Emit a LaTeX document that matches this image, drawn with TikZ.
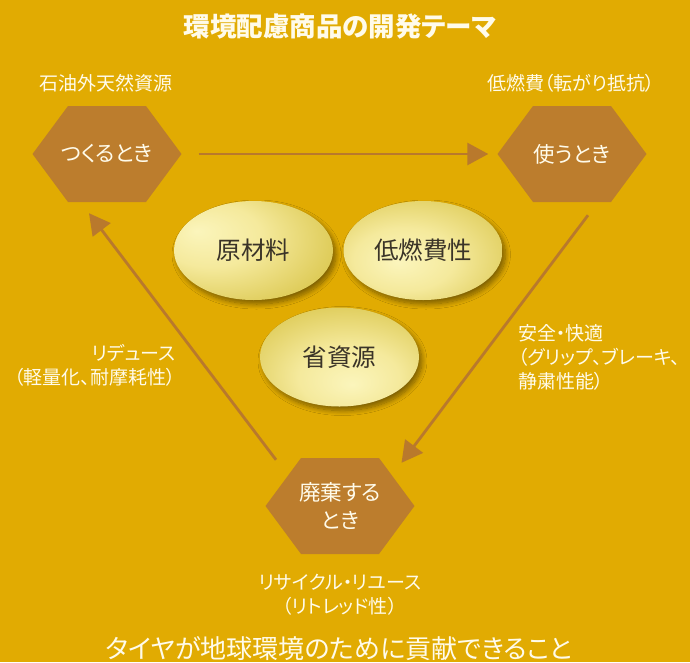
\documentclass[tikz,border=0pt]{standalone}
\usepackage{fontspec}
\setmainfont[RawFeature=+palt]{Noto Sans CJK JP}
\usetikzlibrary{arrows.meta,shapes.geometric,shadows.blur}
\definecolor{bg}{HTML}{E1AB02}
\definecolor{hexc}{HTML}{BC7D2D}
\definecolor{arrc}{HTML}{B9792C}
\definecolor{eLight}{HTML}{FBF5BC}
\definecolor{eMid}{HTML}{EBD86C}
\definecolor{eDark}{HTML}{C3AC1A}
\definecolor{txtw}{HTML}{FFFBEA}
\definecolor{txtd}{HTML}{3B3428}
\pgfdeclareradialshading{glowA}{\pgfpoint{-18bp}{10bp}}{color(0bp)=(eLight); color(16bp)=(eLight!60!eMid); color(40bp)=(eMid!50!eDark); color(64bp)=(eDark)}
\pgfdeclareradialshading{glowB}{\pgfpoint{-8bp}{-6bp}}{color(0bp)=(eLight); color(16bp)=(eLight!60!eMid); color(40bp)=(eMid!50!eDark); color(62bp)=(eDark)}
\pgfdeclareradialshading{glowC}{\pgfpoint{4bp}{-14bp}}{color(0bp)=(eLight); color(16bp)=(eLight!60!eMid); color(40bp)=(eMid!50!eDark); color(64bp)=(eDark)}
\begin{document}
\begin{tikzpicture}[x=1pt,y=-1pt,
  hexnode/.style={minimum width=149pt,minimum height=96pt,inner sep=0pt,text=txtw,
    font=\fontsize{21.5pt}{28pt}\selectfont,align=center,
    path picture={\fill[hexc] (path picture bounding box.west)
      -- ([xshift=-39pt]path picture bounding box.north)
      -- ([xshift=39pt]path picture bounding box.north)
      -- (path picture bounding box.east)
      -- ([xshift=39pt]path picture bounding box.south)
      -- ([xshift=-39pt]path picture bounding box.south) -- cycle;}},
  ellnode/.style={ellipse,minimum width=159pt,minimum height=99pt,inner sep=0pt,text=txtd,
    font=\fontsize{24.5pt}{28pt}\selectfont,
    blur shadow={shadow xshift=3pt,shadow yshift=-4pt,shadow blur radius=5pt,shadow opacity=45,shadow blur steps=10}},
  lbl/.style={text=txtw,font=\fontsize{19pt}{24pt}\selectfont,inner sep=0pt},
  conn/.style={draw=arrc,line width=2.8pt,-{Triangle[length=21pt,width=22pt]}}]
\useasboundingbox (0,0) rectangle (690,662);
\fill[bg] (0,0) rectangle (690,662);

\node[text=txtw,font=\bfseries\fontsize{26.5pt}{30pt}\selectfont] (title) at (340,26) {環境配慮商品の開発テーマ};
\node[lbl] (src1) at (106,83) {石油外天然資源};
\node[lbl] (src2) at (571,83) {低燃費（転がり抵抗）};

\node[hexnode] (h1) at (107,154) {つくるとき};
\node[hexnode] (h2) at (572,154) {使うとき};
\node[hexnode] (h3) at (340,506) {廃棄する\\とき};

\node[ellnode,shading=glowA] (e1) at (253.5,250.5) {原材料};
\node[ellnode,shading=glowB] (e2) at (423,250.5) {低燃費性};
\node[ellnode,shading=glowC] (e3) at (339.5,357) {省資源};

\node[lbl,align=right,anchor=east] (l1) at (176,365) {リデュース\\（軽量化、耐摩耗性）};
\node[lbl,align=left,anchor=west] (l2) at (518,357) {安全・快適\\（グリップ、ブレーキ、\\静粛性能）};
\node[lbl,align=center] (l3) at (340,595) {リサイクル・リユース\\（リトレッド性）};
\node[text=txtw,font=\fontsize{26pt}{28pt}\selectfont] (bottom) at (339,649) {タイヤが地球環境のために貢献できること};

\draw[conn,shorten <=17pt,shorten >=9pt] (h1.east) -- (h2.west);
\draw[conn] ([xshift=16pt,yshift=-13pt]h2.south) -- ([xshift=61.5pt,yshift=-5pt]h3.north);
\draw[conn] ([xshift=-64pt,yshift=-2pt]h3.north) -- ([xshift=-18pt,yshift=-11pt]h1.south);
\end{tikzpicture}
\end{document}
